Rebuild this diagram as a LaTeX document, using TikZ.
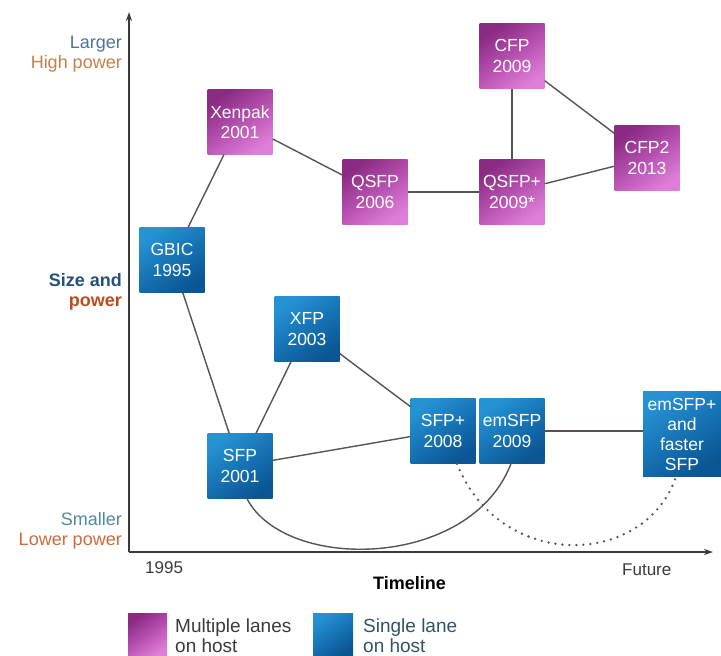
\documentclass[tikz,border=0pt]{standalone}
\usepackage{fontspec}
\setmainfont{Liberation Sans}
\usetikzlibrary{arrows.meta}
\definecolor{multidark}{HTML}{8A2A82}
\definecolor{multimid}{HTML}{B650B0}
\definecolor{multilight}{HTML}{DE7ED8}
\definecolor{singledark}{HTML}{0B5594}
\definecolor{singlemid}{HTML}{1673B4}
\definecolor{singlelight}{HTML}{2592D4}
\definecolor{linkc}{HTML}{5A5252}
\definecolor{axisc}{HTML}{3A3A36}
\definecolor{largec}{HTML}{4A7499}
\definecolor{highc}{HTML}{C58048}
\definecolor{sizec}{HTML}{25507E}
\definecolor{powerc}{HTML}{C04A20}
\definecolor{smallc}{HTML}{4F8AA0}
\definecolor{lowc}{HTML}{D2693A}
\definecolor{legtext}{HTML}{3A3A3A}
\definecolor{legtextb}{HTML}{2F5563}
\newcommand{\boxfont}{\fontsize{17.5}{20.5}\selectfont}
\newcommand{\labfont}{\fontsize{18}{20}\selectfont}
\begin{document}
\begin{tikzpicture}[x=1pt,y=-1pt,
  modbox/.style={minimum width=65pt, minimum height=65pt, inner sep=0pt,
    align=center, text=white, font=\boxfont},
  multibox/.style={modbox, top color=multidark, bottom color=multilight,
    middle color=multimid, shading angle=35},
  singlebox/.style={modbox, top color=singlelight, bottom color=singledark,
    middle color=singlemid, shading angle=35},
  link/.style={draw=linkc, line width=1.4pt},
  future/.style={draw=linkc, line width=2.6pt, line cap=round,
    dash pattern=on 0pt off 7pt},
  axisline/.style={draw=axisc, line width=1.6pt,
    -{Stealth[length=9pt,width=6pt]}},
  ylab/.style={anchor=base east, inner sep=0pt, font=\labfont},
  xlab/.style={anchor=base west, inner sep=0pt, font=\fontsize{17}{20}\selectfont, text=legtext},
  legtxt/.style={anchor=base west, inner sep=0pt, align=left,
    font=\fontsize{19}{20}\selectfont}]
\useasboundingbox (0,0) rectangle (721,656);

% axes
\coordinate (origin) at (129,552);
\coordinate (ytop) at (129,12);
\coordinate (xend) at (713,552);
\draw[axisline] (origin) -- (ytop);
\draw[axisline] (origin) -- (xend);

% axis labels
\node[ylab, text=largec] (larger) at (122,48) {Larger};
\node[ylab, text=highc] (highp) at (122,68) {High power};
\node[ylab, text=sizec, font=\labfont\bfseries] (sizeand) at (122,286) {Size and};
\node[ylab, text=powerc, font=\labfont\bfseries] (powerlab) at (122,306) {power};
\node[ylab, text=smallc] (smaller) at (122,525) {Smaller};
\node[ylab, text=lowc] (lowp) at (122,545) {Lower power};
\node[xlab] (start) at (145,573) {1995};
\node[xlab, text=black, font=\labfont\bfseries] (timeline) at (373,589) {Timeline};
\node[xlab] (futurelab) at (622,575) {Future};

% multi-lane modules
\node[multibox] (xenpak) at (240,122) {Xenpak\\2001};
\node[multibox] (qsfp) at (375,192) {QSFP\\2006};
\node[multibox] (qsfpp) at (512,192) {QSFP+\\2009*};
\node[multibox] (cfp) at (512,56) {CFP\\2009};
\node[multibox] (cfptwo) at (647,158) {CFP2\\2013};

% single-lane modules
\node[singlebox] (gbic) at (172,260) {GBIC\\1995};
\node[singlebox] (xfp) at (307,329) {XFP\\2003};
\node[singlebox] (sfp) at (240,466) {SFP\\2001};
\node[singlebox] (sfpp) at (443,431) {SFP+\\2008};
\node[singlebox] (emsfp) at (512,431) {emSFP\\2009};
\node[singlebox, minimum width=78pt, minimum height=85pt, font=\fontsize{17.5}{20}\selectfont] (emsfpp) at (682,434)
  {emSFP+\\and\\faster\\SFP};

% connections
\draw[link] (gbic) -- (xenpak);
\draw[link] (xenpak) -- (qsfp);
\draw[link] (qsfp) -- (qsfpp);
\draw[link] (qsfpp) -- (cfp);
\draw[link] (cfp) -- (cfptwo);
\draw[link] (qsfpp) -- (cfptwo);
\draw[link] (gbic) -- (sfp);
\draw[link] (sfp) -- (xfp);
\draw[link] (xfp) -- (sfpp);
\draw[link] (sfp) -- (sfpp);
\draw[link] (emsfp) -- (emsfp.east -| emsfpp.west);
\draw[link] ([xshift=7pt]sfp.south) .. controls (285,572) and (470,570) .. ([xshift=-1pt]emsfp.south);
\draw[future] ([xshift=14pt]sfpp.south) .. controls (500,572) and (645,568) .. ([xshift=-6pt]emsfpp.south);

% legend
\node[multibox, minimum width=39pt, minimum height=44pt] (legmulti) at (147.5,635) {};
\node[legtxt, text=legtext] (legmultitext) at (175,652) {Multiple lanes\\on host};
\node[singlebox, minimum width=40pt, minimum height=44pt] (legsingle) at (333,635) {};
\node[legtxt, text=legtextb] (legsingletext) at (363,652) {Single lane\\on host};
\end{tikzpicture}
\end{document}
